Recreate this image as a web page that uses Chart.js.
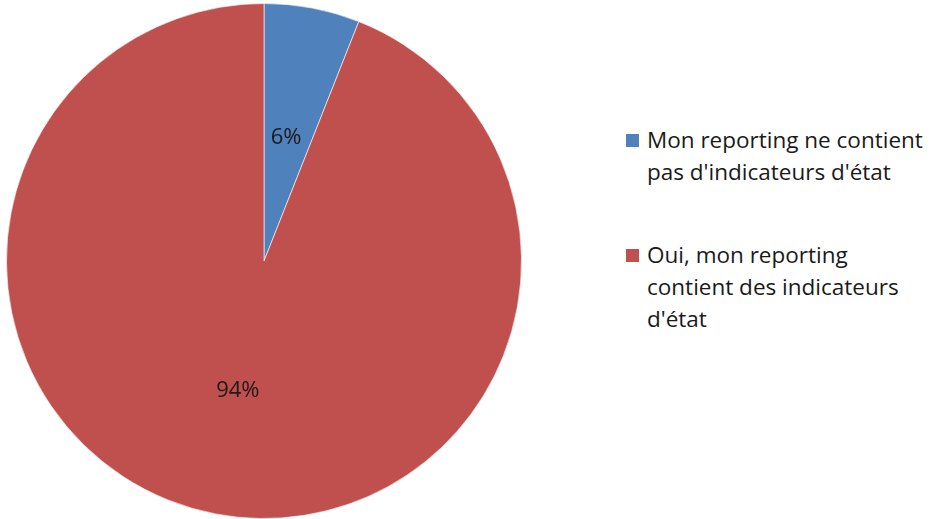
<!DOCTYPE html>
<html>
<head>
<meta charset="utf-8">
<script src="https://cdn.jsdelivr.net/npm/chart.js@4"></script>
<style>
  body { margin: 0; background: #fff; width: 940px; height: 519px; overflow: hidden; position: relative; }
  #pieBox { position: absolute; left: 6px; top: 3px; width: 516px; height: 516px; }
  #legende { position: absolute; left: 626px; top: 124px; font-family: "Open Sans", sans-serif; font-size: 22.5px; color: #1a1a1a; line-height: 32px; white-space: nowrap; }
  .item { position: relative; padding-left: 21px; margin-bottom: 51px; }
  .carre { position: absolute; left: 0; top: 10px; width: 13px; height: 13px; }
</style>
</head>
<body>
<div id="pieBox"><canvas id="graphe"></canvas></div>
<div id="legende"></div>
<script>
  var libelles = [
    ["Mon reporting ne contient", "pas d'indicateurs d'état"],
    ["Oui, mon reporting", "contient des indicateurs", "d'état"]
  ];
  var valeurs = [6, 94];
  var couleurs = ['#4F81BD', '#C0504D'];

  // pourcentages dessines au milieu de chaque part
  const etiquettes = {
    id: 'etiquettes',
    afterDatasetsDraw(chart) {
      const ctx = chart.ctx;
      const total = valeurs.reduce((a, b) => a + b, 0);
      ctx.save();
      ctx.font = '22px "Open Sans", sans-serif';
      ctx.fillStyle = '#1a1a1a';
      ctx.textAlign = 'center';
      ctx.textBaseline = 'middle';
      chart.getDatasetMeta(0).data.forEach(function (arc, i) {
        const p = arc.getProps(['x', 'y', 'startAngle', 'endAngle', 'outerRadius'], true);
        const a = (p.startAngle + p.endAngle) / 2;
        const r = p.outerRadius * 0.5;
        const pct = Math.round(valeurs[i] / total * 100) + '%';
        ctx.fillText(pct, p.x + Math.cos(a) * r - 2, p.y + Math.sin(a) * r + 3);
      });
      ctx.restore();
    }
  };

  const config = {
    type: 'pie',
    data: {
      labels: libelles,
      datasets: [{
        data: valeurs,
        backgroundColor: couleurs,
        borderColor: 'rgba(255,255,255,0.6)',
        borderWidth: 1
      }]
    },
    options: {
      responsive: true,
      maintainAspectRatio: false,
      animation: false,
      plugins: {
        legend: { display: false },
        tooltip: { enabled: false }
      }
    },
    plugins: [etiquettes]
  };

  var monGraphe = new Chart(document.getElementById('graphe'), config);

  // legende a droite
  var leg = document.getElementById('legende');
  libelles.forEach(function (lignes, i) {
    var div = document.createElement('div');
    div.className = 'item';
    var c = document.createElement('span');
    c.className = 'carre';
    c.style.background = couleurs[i];
    div.appendChild(c);
    lignes.forEach(function (l) {
      var t = document.createElement('div');
      t.textContent = l;
      div.appendChild(t);
    });
    leg.appendChild(div);
  });
</script>
</body>
</html>
